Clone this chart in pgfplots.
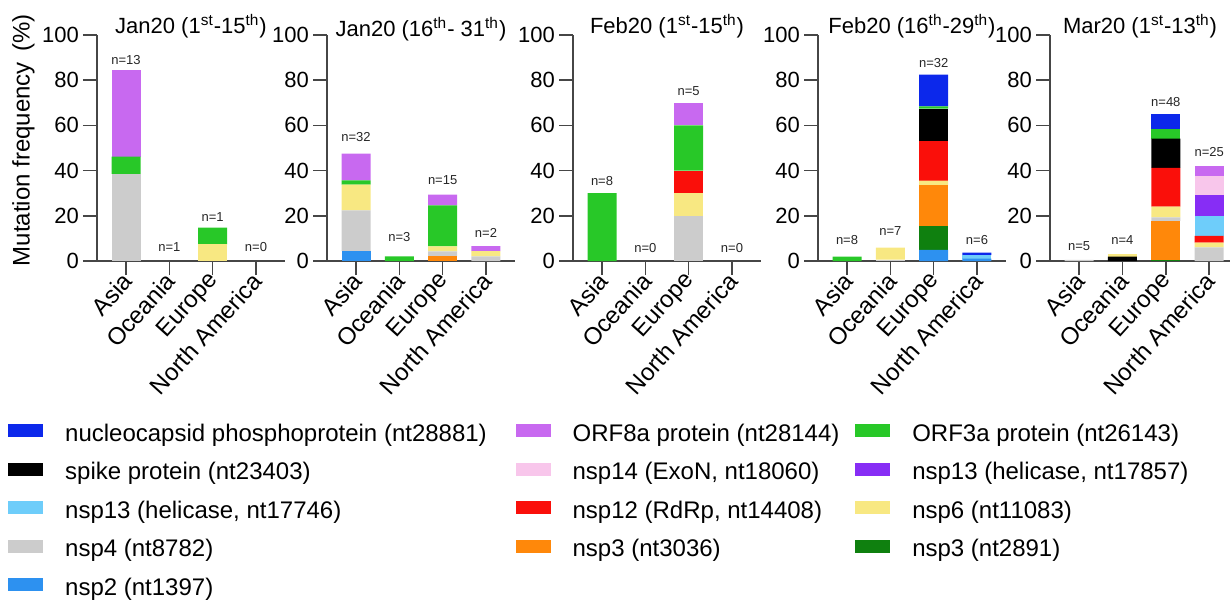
\documentclass[border=0pt]{standalone}
\usepackage{fontspec}
\setmainfont{Liberation Sans}
\usepackage{pgfplots}
\usepackage{pgfplotstable}
\pgfplotsset{compat=1.18}

\definecolor{cNcap}{RGB}{12,40,235}
\definecolor{cSpike}{RGB}{0,0,0}
\definecolor{cNspA}{RGB}{110,205,250}
\definecolor{cNsp4}{RGB}{204,204,204}
\definecolor{cNsp2}{RGB}{45,145,240}
\definecolor{cOrf8}{RGB}{200,105,240}
\definecolor{cNsp14}{RGB}{248,198,235}
\definecolor{cNsp12}{RGB}{250,15,10}
\definecolor{cNsp3b}{RGB}{255,136,10}
\definecolor{cOrf3}{RGB}{40,200,40}
\definecolor{cNsp13b}{RGB}{135,45,245}
\definecolor{cNsp6}{RGB}{248,232,130}
\definecolor{cNsp3a}{RGB}{15,128,15}
\definecolor{axgray}{RGB}{70,70,70}

% columns: x nsp2 nsp3(2891) nsp3(3036) nsp4 nsp6 nsp12 nsp13(17746) nsp13(17857) nsp14 spike ORF3a ORF8a N nsp6(top) | label height ly, sample size n
\pgfplotstableread{
x a2  a3a  a3b  a4   a6   a12  a13a a13b a14 sp   o3   o8   nc   a6t ly   n
0 0   0    0    38.5 0    0    0    0    0   0    7.7  38.5 0    0   89.0 13
1 0   0    0    0    0    0    0    0    0   0    0    0    0    0   6.0  1
2 0   0    0    0    7.4  0    0    0    0   0    7.4  0    0    0   19.6 1
3 0   0    0    0    0    0    0    0    0   0    0    0    0    0   6.0  0
}\tA
\pgfplotstableread{
x a2  a3a  a3b  a4   a6   a12  a13a a13b a14 sp   o3   o8   nc   a6t ly   n
0 4.4 0    0    18.0 11.4 0    0    0    0   0    1.9  11.8 0    0   54.9 32
1 0   0    0    0    0    0    0    0    0   0    2.1  0    0    0   10.5 3
2 0   0    2.2  2.1  2.2  0    0    0    0   0    18.1 4.8  0    0   35.7 15
3 0   0    0    2.1  2.3  0    0    0    0   0    0    2.2  0    0   12.2 2
}\tB
\pgfplotstableread{
x a2  a3a  a3b  a4   a6   a12  a13a a13b a14 sp   o3   o8   nc   a6t ly   n
0 0   0    0    0    0    0    0    0    0   0    30   0    0    0   35.3 8
1 0   0    0    0    0    0    0    0    0   0    0    0    0    0   5.6  0
2 0   0    0    20   10   10   0    0    0   0    20   10   0    0   75.1 5
3 0   0    0    0    0    0    0    0    0   0    0    0    0    0   5.6  0
}\tC
\pgfplotstableread{
x a2  a3a  a3b  a4   a6   a12  a13a a13b a14 sp   o3   o8   nc   a6t ly   n
0 0   0    0    0    0    0    0    0    0   0    1.9  0    0    0   9.3  8
1 0   0    0    0.6  5.3  0    0    0    0   0    0    0    0    0   13.3 7
2 4.9 10.7 18.0 0    2.0  17.3 0    0    0   14.5 1.0  0    14.1 0   87.4 32
3 1.0 0    0    0    0    0    1.6  0    0   0    0    0    1.1  0   9.3  6
}\tD
\pgfplotstableread{
x a2  a3a  a3b  a4   a6   a12  a13a a13b a14 sp   o3   o8   nc   a6t ly   n
0 0   0    0    0.5  0    0    0    0    0   0    0    0    0    0   6.4  5
1 0   0    0    0    0    0    0    0    0   1.9  0    0    0    1.1 9.3  4
2 0   0.5  17.3 1.5  4.8  17.1 0    0    0   12.9 4.4  0    6.5  0   70.4 48
3 0   0    0    6.0  2.1  3.0  8.9  9.2  8.3 0    0    4.7  0    0   48.1 25
}\tE

\newcommand\stackbars[1]{%
  \addplot[fill=cNsp2]   table[x=x,y=a2]{#1};
  \addplot[fill=cNsp3a]  table[x=x,y=a3a]{#1};
  \addplot[fill=cNsp3b]  table[x=x,y=a3b]{#1};
  \addplot[fill=cNsp4]   table[x=x,y=a4]{#1};
  \addplot[fill=cNsp6]   table[x=x,y=a6]{#1};
  \addplot[fill=cNsp12]  table[x=x,y=a12]{#1};
  \addplot[fill=cNspA]   table[x=x,y=a13a]{#1};
  \addplot[fill=cNsp13b] table[x=x,y=a13b]{#1};
  \addplot[fill=cNsp14]  table[x=x,y=a14]{#1};
  \addplot[fill=cSpike]  table[x=x,y=sp]{#1};
  \addplot[fill=cOrf3]   table[x=x,y=o3]{#1};
  \addplot[fill=cOrf8]   table[x=x,y=o8]{#1};
  \addplot[fill=cNcap]   table[x=x,y=nc]{#1};
  \addplot[fill=cNsp6]   table[x=x,y=a6t]{#1};
}
\newcommand\nlabels[1]{%
  \addplot[draw=none, mark=none, nodes near coords={n=\pgfplotspointmeta}, point meta=explicit symbolic,
    every node near coord/.append style={anchor=center, font=\fontsize{6.5}{7}\selectfont, inner sep=0pt, text=black!85}]
    table[x=x,y=ly,meta=n]{#1};
}

\pgfplotsset{
  frame/.style={
    scale only axis, width=94pt, height=113pt, anchor=south west,
    ymin=0, ymax=100, xmin=-0.67, xmax=3.67, clip=false,
  },
  panel/.style={
    frame,
    ybar stacked, bar width=14.5pt,
    ytick={0,20,...,100},
    xtick={0,1,2,3},
    xticklabels={Asia,Oceania,Europe,North America},
    axis x line*=bottom, axis y line*=left,
    axis line style={-, axgray, line width=0.8pt},
    tick align=outside, major tick length=7pt,
    tick style={axgray, line width=0.8pt},
    minor tick num=0,
    x tick label style={rotate=48, anchor=east, font=\fontsize{12}{14}\selectfont, inner sep=1pt, xshift=1pt, yshift=-1pt},
    y tick label style={font=\fontsize{11}{13}\selectfont, xshift=1.5pt},
    /pgf/number format/assume math mode=true,
    title style={at={(axis description cs:0.5,1)}, anchor=base, yshift=-5pt, font=\fontsize{11}{13}\selectfont},
    every axis plot/.append style={draw=none},
  },
  labs/.style={frame, hide axis},
  sw/.style={legend image code/.code={\fill[#1] (0pt,-0.5pt) rectangle (17pt,5.5pt);}},
}

\begin{document}
\begin{tikzpicture}
\path[use as bounding box] (0,0) rectangle (615pt,300.5pt);

\begin{axis}[panel, at={(48.5pt,170pt)},
  title={Jan20 (1\textsuperscript{st}-15\textsuperscript{th})},
  ylabel={Mutation frequency\hspace{0.45em}(\%)},
  every axis y label/.style={at={(axis description cs:-0.392,0.535)}, rotate=90, anchor=center, font=\fontsize{12}{14}\selectfont}]
\stackbars{\tA}
\end{axis}
\begin{axis}[labs, at={(48.5pt,170pt)}]
\nlabels{\tA}
\end{axis}

\begin{axis}[panel, at={(163.5pt,170pt)},
  title={Jan20 (16\textsuperscript{th}- 31\textsuperscript{th})},
  title style={yshift=-1.5pt}]
\stackbars{\tB}
\end{axis}
\begin{axis}[labs, at={(163.5pt,170pt)}]
\nlabels{\tB}
\end{axis}

\begin{axis}[panel, at={(286.5pt,170pt)},
  title={Feb20 (1\textsuperscript{st}-15\textsuperscript{th})}]
\stackbars{\tC}
\end{axis}
\begin{axis}[labs, at={(286.5pt,170pt)}]
\nlabels{\tC}
\end{axis}

\begin{axis}[panel, at={(409pt,170pt)},
  title={Feb20 (16\textsuperscript{th}-29\textsuperscript{th})}]
\stackbars{\tD}
\end{axis}
\begin{axis}[labs, at={(409pt,170pt)}]
\nlabels{\tD}
\end{axis}

\begin{axis}[panel, at={(525pt,170pt)}, width=90pt, xmax=3.48,
  title={Mar20 (1\textsuperscript{st}-13\textsuperscript{th})}]
\stackbars{\tE}
\end{axis}
\begin{axis}[labs, at={(525pt,170pt)}, width=90pt, xmax=3.48]
\nlabels{\tE}
\end{axis}

\begin{axis}[hide axis, scale only axis, width=10pt, height=10pt,
  at={(4pt,89pt)}, anchor=north west,
  xmin=0, xmax=1, ymin=0, ymax=1,
  legend columns=3, legend cell align=left,
  legend style={at={(0,1)}, anchor=north west, draw=none, fill=none, inner sep=0pt,
    font=\fontsize{12}{14}\selectfont, row sep=7.25pt,
    nodes={inner sep=0pt, text height=9pt, text depth=3pt},
    /tikz/every odd column/.style={column sep=11pt},
    /tikz/column 2/.style={column sep=14.5pt},
    /tikz/column 4/.style={column sep=8pt}}]
\addlegendimage{sw=cNcap}   \addlegendentry{nucleocapsid phosphoprotein (nt28881)}
\addlegendimage{sw=cOrf8}   \addlegendentry{ORF8a protein (nt28144)}
\addlegendimage{sw=cOrf3}   \addlegendentry{ORF3a protein (nt26143)}
\addlegendimage{sw=cSpike}  \addlegendentry{spike protein (nt23403)}
\addlegendimage{sw=cNsp14}  \addlegendentry{nsp14 (ExoN, nt18060)}
\addlegendimage{sw=cNsp13b} \addlegendentry{nsp13 (helicase, nt17857)}
\addlegendimage{sw=cNspA}   \addlegendentry{nsp13 (helicase, nt17746)}
\addlegendimage{sw=cNsp12}  \addlegendentry{nsp12 (RdRp, nt14408)}
\addlegendimage{sw=cNsp6}   \addlegendentry{nsp6 (nt11083)}
\addlegendimage{sw=cNsp4}   \addlegendentry{nsp4 (nt8782)}
\addlegendimage{sw=cNsp3b}  \addlegendentry{nsp3 (nt3036)}
\addlegendimage{sw=cNsp3a}  \addlegendentry{nsp3 (nt2891)}
\addlegendimage{sw=cNsp2}   \addlegendentry{nsp2 (nt1397)}
\end{axis}
\end{tikzpicture}
\end{document}
